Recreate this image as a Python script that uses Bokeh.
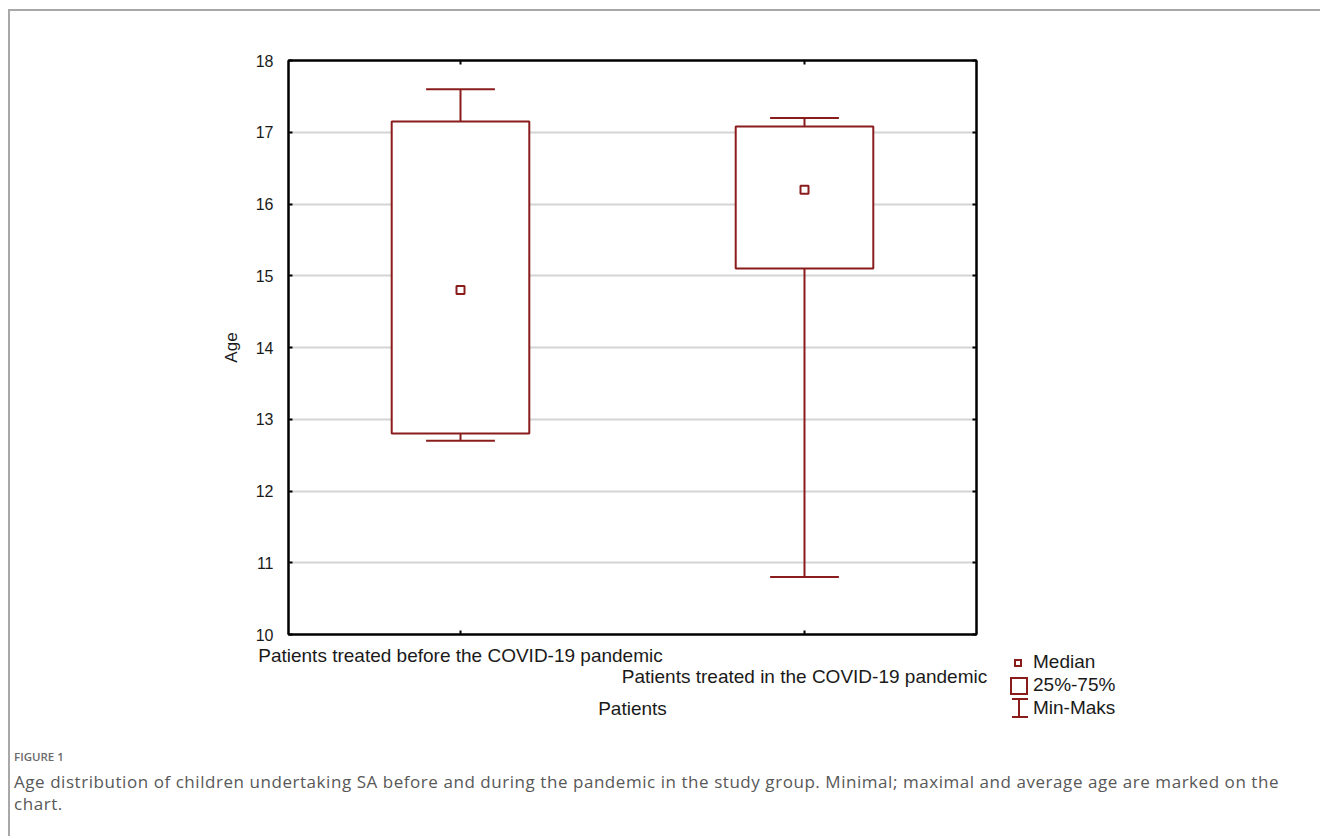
from bokeh.plotting import figure
from bokeh.layouts import column, row
from bokeh.models import (Range1d, FixedTicker, LinearAxis, Grid, ColumnDataSource, Div,
                          CustomLabelingPolicy)
from bokeh.embed import file_html
from bokeh.resources import INLINE

# ---- data ----
categories = ["Patients treated before the COVID-19 pandemic",
              "Patients treated in the COVID-19 pandemic"]
min_age = [12.7, 10.8]
q1_age = [12.8, 15.1]
median_age = [14.8, 16.2]
q3_age = [17.15, 17.08]
max_age = [17.6, 17.2]
y_ticks = [10, 11, 12, 13, 14, 15, 16, 17, 18]
legend_labels = ["Median", "25%-75%", "Min-Maks"]
caption_head = "FIGURE 1"
caption_lines = ["Age distribution of children undertaking SA before and during the pandemic in the study group. Minimal; maximal and average age are marked on the",
                 "chart."]

RED = "#8a1c1c"
FONT = "Liberation Sans"
CAP_FONT = "Open Sans"
TXT = "#1a1a1a"

positions = [i + 0.5 for i in range(len(categories))]
box_w = 0.4
cap_half = 0.1

src = ColumnDataSource(dict(
    x=positions, lo=min_age, q1=q1_age, med=median_age, q3=q3_age, hi=max_age,
    cl=[x - cap_half for x in positions], cr=[x + cap_half for x in positions]))

FIG_W, FIG_H = 1000, 725
TOTAL_W = 1310

p = figure(width=FIG_W, height=FIG_H, x_range=Range1d(0, len(categories)),
           y_range=Range1d(y_ticks[0], y_ticks[-1]),
           x_axis_location=None, y_axis_location=None,
           output_backend="svg", toolbar_location=None,
           min_border_left=278, min_border_right=FIG_W - 966,
           min_border_top=49, min_border_bottom=102)
for g in p.grid:
    g.visible = False
p.outline_line_color = "black"
p.outline_line_width = 2
p.background_fill_color = "white"
p.border_fill_color = "white"

yticker = FixedTicker(ticks=y_ticks)
xticker = FixedTicker(ticks=positions)

p.add_layout(Grid(dimension=1, ticker=yticker, grid_line_color="#d4d4d4", grid_line_width=2))

def style_axis(ax):
    ax.axis_line_color = "black"
    ax.axis_line_width = 2
    ax.major_tick_line_color = "black"
    ax.major_tick_line_width = 2
    ax.major_tick_in = 4
    ax.major_tick_out = 0
    ax.minor_tick_line_color = None
    ax.major_label_text_font = FONT
    ax.major_label_text_color = TXT
    ax.axis_label_text_font = FONT
    ax.axis_label_text_font_style = "normal"
    ax.axis_label_text_color = TXT

yax = LinearAxis(ticker=yticker, axis_label="Age")
style_axis(yax)
yax.major_label_text_font_size = "16px"
yax.major_label_standoff = 15
yax.axis_label_text_font_size = "17px"
yax.axis_label_standoff = 12
p.add_layout(yax, "left")

# border axes on the right and top: inward ticks only, no labels
no_labels = CustomLabelingPolicy(code="return new Set()")
for side, tk in (("right", yticker), ("above", xticker)):
    bax = LinearAxis(ticker=tk, major_label_policy=no_labels)
    style_axis(bax)
    bax.major_label_text_font_size = "10px"
    bax.major_label_standoff = 0
    p.add_layout(bax, side)

xax1 = LinearAxis(ticker=xticker,
                  major_label_overrides={positions[0]: categories[0], positions[1]: " "})
style_axis(xax1)
xax1.major_label_text_font_size = "19px"
xax1.major_label_standoff = 10
p.add_layout(xax1, "below")

xax2 = LinearAxis(ticker=FixedTicker(ticks=[positions[1]]),
                  major_label_overrides={positions[1]: categories[1]},
                  axis_label="Patients")
style_axis(xax2)
xax2.axis_line_color = None
xax2.major_tick_line_color = None
xax2.major_tick_in = 0
xax2.major_label_text_font_size = "19px"
xax2.major_label_standoff = -3
xax2.axis_label_text_font_size = "19px"
xax2.axis_label_standoff = 8
p.add_layout(xax2, "below")

# boxes and whiskers
p.segment(x0="x", y0="lo", x1="x", y1="q1", source=src, line_color=RED, line_width=2)
p.segment(x0="x", y0="q3", x1="x", y1="hi", source=src, line_color=RED, line_width=2)
p.segment(x0="cl", y0="lo", x1="cr", y1="lo", source=src, line_color=RED, line_width=2)
p.segment(x0="cl", y0="hi", x1="cr", y1="hi", source=src, line_color=RED, line_width=2)
p.vbar(x="x", width=box_w, bottom="q1", top="q3", source=src,
       fill_color="white", line_color=RED, line_width=2)
p.scatter(x="x", y="med", source=src, marker="square", size=8,
          fill_color="white", line_color=RED, line_width=2)

# ---- legend (HTML beside the figure) ----
keys_svg = (
    f'<svg width="24" height="72" style="position:absolute;left:0px;top:638px;overflow:visible">'
    f'<rect x="5" y="11" width="6" height="6" fill="white" stroke="{RED}" stroke-width="2"/>'
    f'<rect x="1" y="29" width="16" height="16" fill="white" stroke="{RED}" stroke-width="2"/>'
    f'<line x1="9" y1="50" x2="9" y2="68" stroke="{RED}" stroke-width="2"/>'
    f'<line x1="2" y1="50" x2="18" y2="50" stroke="{RED}" stroke-width="2"/>'
    f'<line x1="2" y1="68" x2="18" y2="68" stroke="{RED}" stroke-width="2"/>'
    f'</svg>'
)
labels_html = "".join(
    f'<div style="position:absolute;left:23px;top:{top}px;line-height:20px;'
    f'font-family:\'{FONT}\';font-size:19px;color:{TXT};white-space:nowrap;">{lbl}</div>'
    for lbl, top in zip(legend_labels, [641, 664, 687]))
legend_div = Div(text=f'<div style="position:relative;width:{TOTAL_W - FIG_W}px;height:{FIG_H}px;">'
                      f'{keys_svg}{labels_html}</div>',
                 width=TOTAL_W - FIG_W, height=FIG_H, styles={"margin": "0"})

# ---- caption ----
cap_html = (
    f'<div style="font-family:\'{CAP_FONT}\';font-size:11.5px;font-weight:600;color:#6a6a6a;'
    f'line-height:16px;margin-top:13px;">{caption_head}</div>'
    f'<div style="font-family:\'{CAP_FONT}\';font-size:17px;letter-spacing:0.55px;color:#585858;'
    f'line-height:22px;margin-top:6px;white-space:nowrap;">{caption_lines[0]}<br>{caption_lines[1]}</div>'
)
cap = Div(text=cap_html, width=TOTAL_W, height=100,
          styles={"padding-left": "4px", "margin": "0"})

layout = column(row(p, legend_div, spacing=0), cap, spacing=0,
                styles={"margin-left": "8px", "margin-top": "9px",
                        "border-left": "2px solid #a8a8a8", "border-top": "2px solid #a8a8a8"})

open("out.html", "w").write(file_html(layout, INLINE))
